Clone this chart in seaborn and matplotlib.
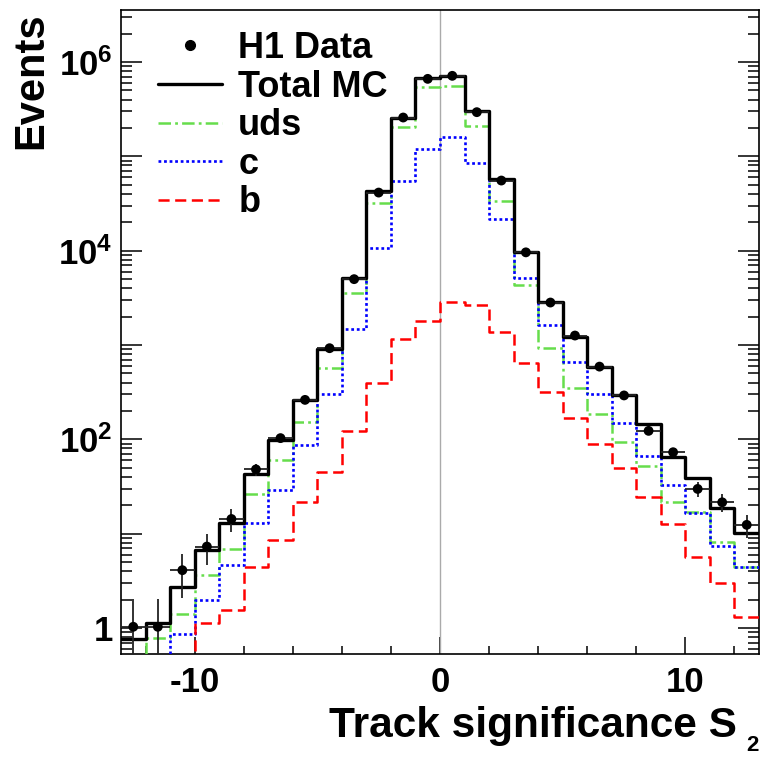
import matplotlib
matplotlib.use("Agg")
import matplotlib.pyplot as plt
from matplotlib.lines import Line2D
from matplotlib.ticker import LogLocator, NullFormatter, FixedLocator, FixedFormatter, MultipleLocator
import seaborn as sns

# binning of the track significance S2 (unit bins from -13 to 13)
bin_edges = list(range(-13, 14))
bin_centres = [e + 0.5 for e in bin_edges[:-1]]

# H1 data points and their errors
h1_data = [1.03, 1.03, 4.1, 7.3, 14.3, 48, 103, 262, 925, 4990, 41300, 258000, 663000,
           714000, 294000, 55400, 9600, 2820, 1260, 590, 292, 123, 73, 29.8, 21.5, 12.4]
h1_err = [1.0, 1.0, 2.0, 2.7, 3.8, 6.9, 10, 16, 30, 71, 200, 510, 810,
          850, 540, 235, 98, 53, 35, 24, 17, 11, 8.5, 5.5, 4.6, 3.5]

# Monte Carlo expectations per bin
total_mc = [0.76, 1.12, 2.74, 6.7, 13.1, 42.7, 98, 262, 900, 5100, 42400, 257000, 676000,
            714000, 299000, 57300, 9800, 2840, 1210, 591, 292, 145, 65.5, 39.3, 18.6, 10.1]
uds_mc = [0.3, 0.78, 1.41, 3.65, 6.8, 26.4, 60.5, 154, 565, 3590, 31900, 204000, 550000,
          560000, 209000, 33500, 4340, 938, 353, 186, 93, 52, 21.8, 17.1, 8.2, 4.47]
c_mc = [0.3, 0.3, 0.86, 1.98, 4.66, 13.1, 29, 87, 303, 1480, 10600, 55000, 120000,
        160000, 84700, 21700, 5110, 1610, 657, 303, 148, 66.7, 32.8, 16.7, 7.46, 4.47]
b_mc = [0.3, 0.3, 0.3, 1.12, 1.55, 4.4, 8.6, 21.5, 45.5, 123, 393, 1150, 1800,
        2840, 2680, 1380, 643, 321, 167, 89.5, 49.2, 24.7, 12.6, 5.6, 2.98, 1.32]

sns.set_style("ticks")
plt.rcParams['font.family'] = ['Liberation Sans', 'DejaVu Sans']
plt.rcParams['font.weight'] = 'bold'
plt.rcParams['mathtext.default'] = 'regular'
plt.rcParams['axes.unicode_minus'] = False
plt.rcParams['lines.scale_dashes'] = False
for k in ['text.color', 'axes.labelcolor', 'xtick.color', 'ytick.color', 'axes.edgecolor']:
    plt.rcParams[k] = 'black'

fig = plt.figure(figsize=(7.61, 7.57), dpi=100)
ax = fig.add_axes([121 / 761, 1 - 654 / 757, 638 / 761, 644 / 757])

ax.axvline(0, color='#aaaaaa', lw=1.0, zorder=1)

styles = [
    (uds_mc, '#66dd4c', (0, (9, 3, 2, 3)), 1.8),
    (c_mc, '#0000ff', (0, (2, 2)), 1.9),
    (b_mc, '#ff0000', (0, (8, 4)), 1.8),
    (total_mc, 'black', '-', 2.4),
]
for vals, col, ls, lw in styles:
    sns.histplot(x=bin_centres, weights=vals, bins=bin_edges, element='step', fill=False,
                 color=col, linestyle=ls, linewidth=lw, ax=ax, zorder=3)

ax.errorbar(bin_centres, h1_data, yerr=h1_err, xerr=0.5, fmt='none', ecolor='#222222',
            elinewidth=1.3, capsize=0, zorder=4)
sns.scatterplot(x=bin_centres, y=h1_data, color='black', s=50, edgecolor='none', ax=ax, zorder=5)

ax.set_yscale('log')
ax.set_xlim(-13, 13)
ax.set_ylim(0.53, 3.56e6)

ax.xaxis.set_major_locator(FixedLocator([-10, 0, 10]))
ax.xaxis.set_major_formatter(FixedFormatter(['-10', '0', '10']))
ax.xaxis.set_minor_locator(MultipleLocator(2))
ax.yaxis.set_major_locator(LogLocator(base=10, numticks=20))
ax.yaxis.set_minor_locator(LogLocator(base=10, subs=range(2, 10), numticks=20))
ax.yaxis.set_minor_formatter(NullFormatter())
ylabels = {1: '1', 1e2: '$10^{2}$', 1e4: '$10^{4}$', 1e6: '$10^{6}$'}
ax.yaxis.set_major_formatter(lambda v, p: ylabels.get(round(v, 3), ''))

ax.tick_params(axis='both', which='both', direction='in', labelsize=25, width=1.1)
ax.tick_params(axis='x', which='major', length=12, pad=9)
ax.tick_params(axis='x', which='minor', length=6)
ax.tick_params(axis='y', which='both', right=True, pad=6)
ax.tick_params(axis='y', which='major', length=15)
ax.tick_params(axis='y', which='minor', length=8)
for sp in ax.spines.values():
    sp.set_linewidth(1.2)
    sp.set_color('black')

ax.set_xlabel('')
ax.set_ylabel('')
fig.text(31 / 761, 1 - 12 / 757, 'Events', rotation=90, ha='center', va='top', fontsize=30)
fig.text(737 / 761, 1 - 737 / 757, 'Track significance S', ha='right', va='baseline', fontsize=30.5)
fig.text(746 / 761, 1 - 756 / 757, '2', ha='left', va='bottom', fontsize=16)

handles = [
    Line2D([], [], marker='o', color='black', linestyle='none', markersize=7),
    Line2D([], [], color='black', lw=2.4),
    Line2D([], [], color='#66dd4c', lw=1.8, linestyle=(0, (9, 3, 2, 3))),
    Line2D([], [], color='#0000ff', lw=1.9, linestyle=(0, (2, 2))),
    Line2D([], [], color='#ff0000', lw=1.8, linestyle=(0, (8, 4))),
]
labels = ['H1 Data', 'Total MC', 'uds', 'c', 'b']
ax.legend(handles, labels, loc='upper left', bbox_to_anchor=(158 / 761, 1 - 31 / 757),
          bbox_transform=fig.transFigure, frameon=False, fontsize=26, borderpad=0,
          borderaxespad=0, handlelength=1.78, handletextpad=0.44, labelspacing=0.1)

fig.savefig('out.png', dpi=100, facecolor='white')
